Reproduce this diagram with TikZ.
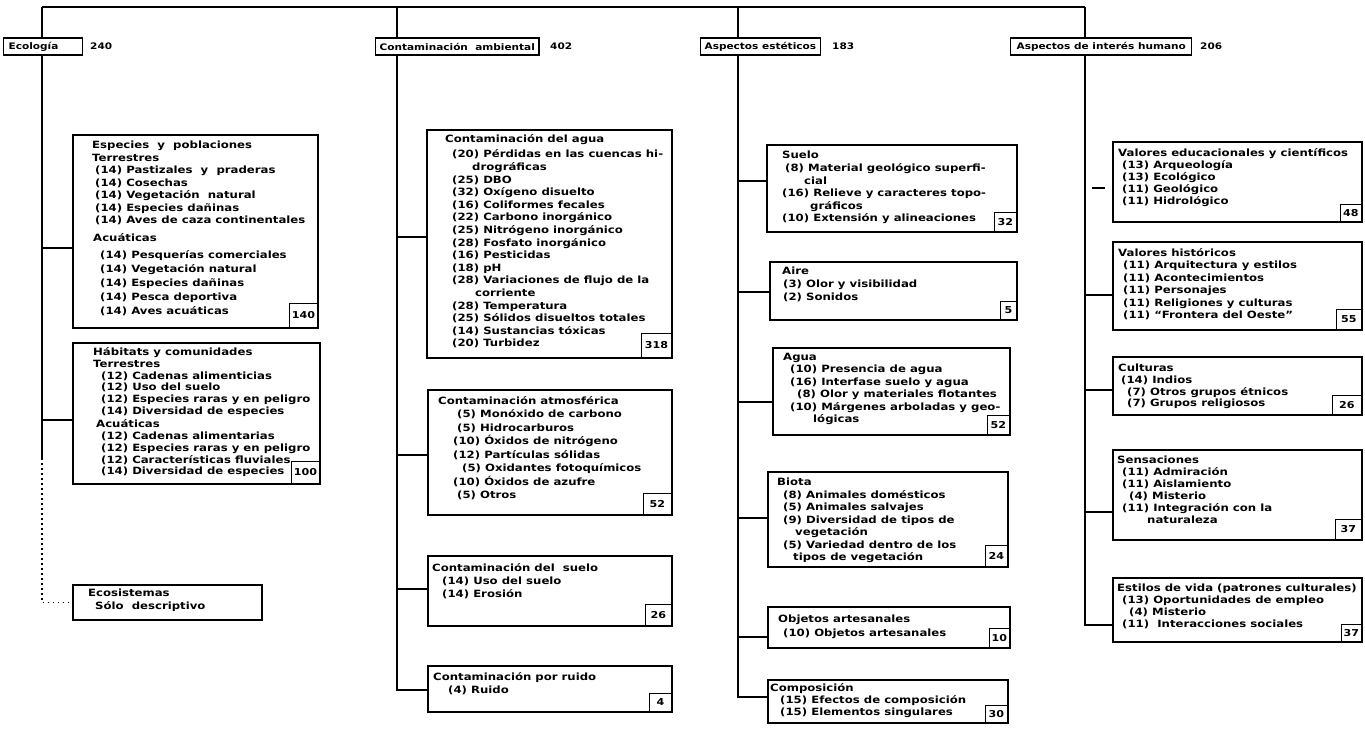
\documentclass[tikz,border=0pt]{standalone}
\usepackage{fontspec}
\setmainfont{DejaVu Sans}
\newfontfamily\fB{DejaVu Sans}[FakeStretch=1.17]
\usetikzlibrary{fit}
\newcommand\idt[1]{\hspace*{#1pt}}
\begin{document}
\begin{tikzpicture}[x=1pt,y=-1pt,
  bx/.style={draw, line width=1.2pt, inner sep=0pt, outer sep=0pt},
  tx/.style={anchor=north west, align=left, inner sep=0pt, font=\fB\bfseries\fontsize{10}{#1}\selectfont},
  tx/.default=12.5,
  nb/.style={draw, line width=1.2pt, anchor=south east, inner sep=0pt, font=\fB\bfseries\fontsize{9.5}{10}\selectfont},
  hd/.style={draw, line width=1.2pt, anchor=west, minimum height=17pt, inner xsep=4pt, inner ysep=0pt, font=\fB\bfseries\fontsize{9}{10}\selectfont},
  tot/.style={anchor=west, inner sep=0pt, font=\fB\bfseries\fontsize{9}{10}\selectfont},
  wire/.style={line width=1.4pt},
  dotw/.style={line width=1.4pt, dash pattern=on 1.5pt off 3.5pt}]
\useasboundingbox (0,0) rectangle (1365,731);
\fill[white] (0,0) rectangle (1365,731);

% ---------- headers ----------
\node[hd, minimum width=79pt, text width=69pt, align=left] (ecol) at (3,46.5) {Ecología};
\node[tot] (ecoln) at (90,46.5) {240};
\node[hd] (cont) at (375,46.5) {Contaminación\ \ ambiental};
\node[tot] (contn) at (550,46.5) {402};
\node[hd] (estet) at (700,46.5) {Aspectos estéticos};
\node[tot] (estetn) at (832,46.5) {183};
\node[hd, inner xsep=6pt] (hum) at (1010,46.5) {Aspectos de interés humano};
\node[tot] (humn) at (1200,46.5) {206};

% ---------- Ecologia ----------
\node[bx, fit={(73,135) (318,328)}] (esp) {};
\node[tx, xshift=19pt, yshift=-6pt] (espt) at (esp.north west) {Especies\ \ y\ \ poblaciones\\
Terrestres\\
\idt{3}(14) Pastizales\ \ y\ \ praderas\\
\idt{3}(14) Cosechas\\
\idt{3}(14) Vegetación\ \ natural\\
\idt{3}(14) Especies dañinas\\
\idt{3}(14) Aves de caza continentales\\[5pt]
\idt{1}Acuáticas\\[5pt]
\idt{8}(14) Pesquerías comerciales\\[1.5pt]
\idt{8}(14) Vegetación natural\\[1.5pt]
\idt{8}(14) Especies dañinas\\[1.5pt]
\idt{8}(14) Pesca deportiva\\[1.5pt]
\idt{8}(14) Aves acuáticas};
\node[nb, minimum width=28pt, minimum height=24pt] (espn) at (esp.south east) {140};

\node[bx, fit={(73,343) (320,484)}] (hab) {};
\node[tx=11.7, xshift=20pt, yshift=-4.5pt] (habt) at (hab.north west) {Hábitats y comunidades\\
Terrestres\\
\idt{8}(12) Cadenas alimenticias\\
\idt{8}(12) Uso del suelo\\
\idt{8}(12) Especies raras y en peligro\\
\idt{8}(14) Diversidad de especies\\[2pt]
\idt{3}Acuáticas\\
\idt{8}(12) Cadenas alimentarias\\
\idt{8}(12) Especies raras y en peligro\\
\idt{8}(12) Características fluviales\\
\idt{8}(14) Diversidad de especies};
\node[nb, minimum width=28pt, minimum height=22pt] (habn) at (hab.south east) {100};

\node[bx, fit={(73,585) (262,620)}] (ecos) {};
\node[tx=13, xshift=15pt, yshift=-4pt] (ecost) at (ecos.north west) {Ecosistemas\\
\idt{7}Sólo\ \ descriptivo};

% ---------- Contaminacion ----------
\node[bx, fit={(427,130) (672,358)}] (agua) {};
\node[tx=12.6, xshift=18pt, yshift=-4.6pt] (aguat) at (agua.north west) {Contaminación del agua\\[2.4pt]
\idt{7}(20) Pérdidas en las cuencas hi-\\
\idt{27}drográficas\\
\idt{7}(25) DBO\\
\idt{7}(32) Oxígeno disuelto\\
\idt{7}(16) Coliformes fecales\\
\idt{7}(22) Carbono inorgánico\\
\idt{7}(25) Nitrógeno inorgánico\\
\idt{7}(28) Fosfato inorgánico\\
\idt{7}(16) Pesticidas\\
\idt{7}(18) pH\\
\idt{7}(28) Variaciones de flujo de la\\
\idt{30}corriente\\
\idt{7}(28) Temperatura\\
\idt{7}(25) Sólidos disueltos totales\\
\idt{7}(14) Sustancias tóxicas\\
\idt{7}(20) Turbidez};
\node[nb, minimum width=30pt, minimum height=24pt] (aguan) at (agua.south east) {318};

\node[bx, fit={(428,390) (672,515)}] (atm) {};
\node[tx=13.5, xshift=10pt, yshift=-6pt] (atmt) at (atm.north west) {Contaminación atmosférica\\
\idt{19}(5) Monóxido de carbono\\
\idt{19}(5) Hidrocarburos\\
\idt{15}(10) Óxidos de nitrógeno\\
\idt{15}(12) Partículas sólidas\\
\idt{24}(5) Oxidantes fotoquímicos\\
\idt{15}(10) Óxidos de azufre\\
\idt{19}(5) Otros};
\node[nb, minimum width=28pt, minimum height=21pt] (atmn) at (atm.south east) {52};

\node[bx, fit={(428,556) (672,626)}] (csue) {};
\node[tx=13, xshift=4pt, yshift=-7.6pt] (csuet) at (csue.north west) {Contaminación del\ \ suelo\\
\idt{10}(14) Uso del suelo\\
\idt{10}(14) Erosión};
\node[nb, minimum width=26pt, minimum height=21pt] (csuen) at (csue.south east) {26};

\node[bx, fit={(428,666) (672,712)}] (ruid) {};
\node[tx=13, xshift=5pt, yshift=-6pt] (ruidt) at (ruid.north west) {Contaminación por ruido\\
\idt{15}(4) Ruido};
\node[nb, minimum width=22pt, minimum height=18pt] (ruidn) at (ruid.south east) {4};

% ---------- Aspectos esteticos ----------
\node[bx, fit={(767,145) (1017,232)}] (suel) {};
\node[tx=12.6, xshift=15pt, yshift=-6pt] (suelt) at (suel.north west) {Suelo\\
\idt{3}(8) Material geológico superfi-\\
\idt{22}cial\\
(16) Relieve y caracteres topo-\\
\idt{28}gráficos\\
(10) Extensión y alineaciones};
\node[nb, minimum width=22pt, minimum height=19pt] (sueln) at (suel.south east) {32};

\node[bx, fit={(770,262) (1017,320)}] (aire) {};
\node[tx=13, xshift=12pt, yshift=-5pt] (airet) at (aire.north west) {Aire\\
\idt{1}(3) Olor y visibilidad\\
\idt{1}(2) Sonidos};
\node[nb, minimum width=16pt, minimum height=18pt] (airen) at (aire.south east) {5};

\node[bx, fit={(773,348) (1010,435)}] (eagu) {};
\node[tx, xshift=10pt, yshift=-4.6pt] (eagut) at (eagu.north west) {Agua\\
\idt{7}(10) Presencia de agua\\
\idt{7}(16) Interfase suelo y agua\\
\idt{14}(8) Olor y materiales flotantes\\
\idt{7}(10) Márgenes arboladas y geo-\\
\idt{30}lógicas};
\node[nb, minimum width=22pt, minimum height=19pt] (eagun) at (eagu.south east) {52};

\node[bx, fit={(768,472) (1008,567)}] (biot) {};
\node[tx, xshift=9pt, yshift=-6pt] (biott) at (biot.north west) {Biota\\
\idt{6}(8) Animales domésticos\\
\idt{6}(5) Animales salvajes\\
\idt{6}(9) Diversidad de tipos de\\
\idt{18}vegetación\\
\idt{6}(5) Variedad dentro de los\\
\idt{16}tipos de vegetación};
\node[nb, minimum width=22pt, minimum height=21pt] (biotn) at (biot.south east) {24};

\node[bx, fit={(768,607) (1010,648)}] (objt) {};
\node[tx=14, xshift=10pt, yshift=-7.6pt] (objtt) at (objt.north west) {Objetos artesanales\\
\idt{5}(10) Objetos artesanales};
\node[nb, minimum width=20pt, minimum height=19pt] (objtn) at (objt.south east) {10};

\node[bx, fit={(768,680) (1008,723)}] (comp) {};
\node[tx=12, xshift=2pt, yshift=-3.6pt] (compt) at (comp.north west) {Composición\\
\idt{10}(15) Efectos de composición\\
\idt{10}(15) Elementos singulares};
\node[nb, minimum width=22pt, minimum height=17pt] (compn) at (comp.south east) {30};

% ---------- Aspectos de interes humano ----------
\node[bx, fit={(1113,142) (1362,222)}] (valA) {};
\node[tx=12, xshift=5pt, yshift=-6pt] (valAt) at (valA.north west) {Valores educacionales y científicos\\
\idt{4}(13) Arqueología\\
\idt{4}(13) Ecológico\\
\idt{4}(11) Geológico\\
\idt{4}(11) Hidrológico};
\node[nb, minimum width=21pt, minimum height=17pt] (valAn) at (valA.south east) {48};

\node[bx, fit={(1113,242) (1362,330)}] (valB) {};
\node[tx=12.5, xshift=5pt, yshift=-6pt] (valBt) at (valB.north west) {Valores históricos\\
\idt{5}(11) Arquitectura y estilos\\
\idt{5}(11) Acontecimientos\\
\idt{5}(11) Personajes\\
\idt{5}(11) Religiones y culturas\\
\idt{5}(11) “Frontera del Oeste”};
\node[nb, minimum width=25pt, minimum height=20pt] (valBn) at (valB.south east) {55};

\node[bx, fit={(1113,357) (1362,415)}] (cult) {};
\node[tx=11.8, xshift=5pt, yshift=-6.6pt] (cultt) at (cult.north west) {Culturas\\
\idt{3}(14) Indios\\
\idt{9}(7) Otros grupos étnicos\\
\idt{9}(7) Grupos religiosos};
\node[nb, minimum width=29pt, minimum height=19pt] (cultn) at (cult.south east) {26};

\node[bx, fit={(1113,450) (1362,540)}] (sens) {};
\node[tx=12, xshift=4pt, yshift=-6pt] (senst) at (sens.north west) {Sensaciones\\
\idt{5}(11) Admiración\\
\idt{5}(11) Aislamiento\\
\idt{12}(4) Misterio\\
\idt{5}(11) Integración con la\\
\idt{30}naturaleza};
\node[nb, minimum width=26pt, minimum height=20pt] (sensn) at (sens.south east) {37};

\node[bx, fit={(1113,578) (1362,642)}] (esti) {};
\node[tx=12, xshift=4pt, yshift=-6pt] (estit) at (esti.north west) {Estilos de vida (patrones culturales)\\
\idt{5}(13) Oportunidades de empleo\\
\idt{12}(4) Misterio\\
\idt{5}(11)\ \ Interacciones sociales};
\node[nb, minimum width=20pt, minimum height=17pt] (estin) at (esti.south east) {37};

% ---------- connectors ----------
\coordinate (eT) at (42,7);
\coordinate (cT) at (397,7);
\coordinate (aT) at (738,7);
\coordinate (hT) at (1085,7);
\draw[wire] (eT) -- (hT);
\draw[wire] (eT) -- (eT |- ecol.north);
\draw[wire] (cT) -- (cT |- cont.north);
\draw[wire] (aT) -- (aT |- estet.north);
\draw[wire] (hT) -- (hT |- hum.north);

% Ecologia trunk
\coordinate (eS) at (42,458);
\coordinate (e1) at (42,248);
\coordinate (e2) at (42,420);
\draw[wire] (eT |- ecol.south) -- (eS);
\draw[dotw] (eS) |- (ecos.west);
\draw[wire] (e1) -- (e1 -| esp.west);
\draw[wire] (e2) -- (e2 -| hab.west);

% Contaminacion trunk
\coordinate (c1) at (397,237);
\coordinate (c2) at (397,455);
\coordinate (c3) at (397,589);
\coordinate (c4) at (397,690);
\draw[wire] (cT |- cont.south) -- (c4) -- (c4 -| ruid.west);
\draw[wire] (c1) -- (c1 -| agua.west);
\draw[wire] (c2) -- (c2 -| atm.west);
\draw[wire] (c3) -- (c3 -| csue.west);

% Esteticos trunk
\coordinate (a1) at (738,181);
\coordinate (a2) at (738,292);
\coordinate (a3) at (738,402);
\coordinate (a4) at (738,518);
\coordinate (a5) at (738,637);
\coordinate (a6) at (738,697);
\draw[wire] (aT |- estet.south) -- (a6) -- (a6 -| comp.west);
\draw[wire] (a1) -- (a1 -| suel.west);
\draw[wire] (a2) -- (a2 -| aire.west);
\draw[wire] (a3) -- (a3 -| eagu.west);
\draw[wire] (a4) -- (a4 -| biot.west);
\draw[wire] (a5) -- (a5 -| objt.west);

% Humano trunk
\coordinate (h1) at (1085,188);
\coordinate (h2) at (1085,295);
\coordinate (h3) at (1085,390);
\coordinate (h4) at (1085,512);
\coordinate (h5) at (1085,625);
\draw[wire] (hT |- hum.south) -- (h5) -- (h5 -| esti.west);
\draw[wire, shorten <=7pt, shorten >=8pt] (h1) -- (h1 -| valA.west);
\draw[wire] (h2) -- (h2 -| valB.west);
\draw[wire] (h3) -- (h3 -| cult.west);
\draw[wire] (h4) -- (h4 -| sens.west);
\end{tikzpicture}
\end{document}
